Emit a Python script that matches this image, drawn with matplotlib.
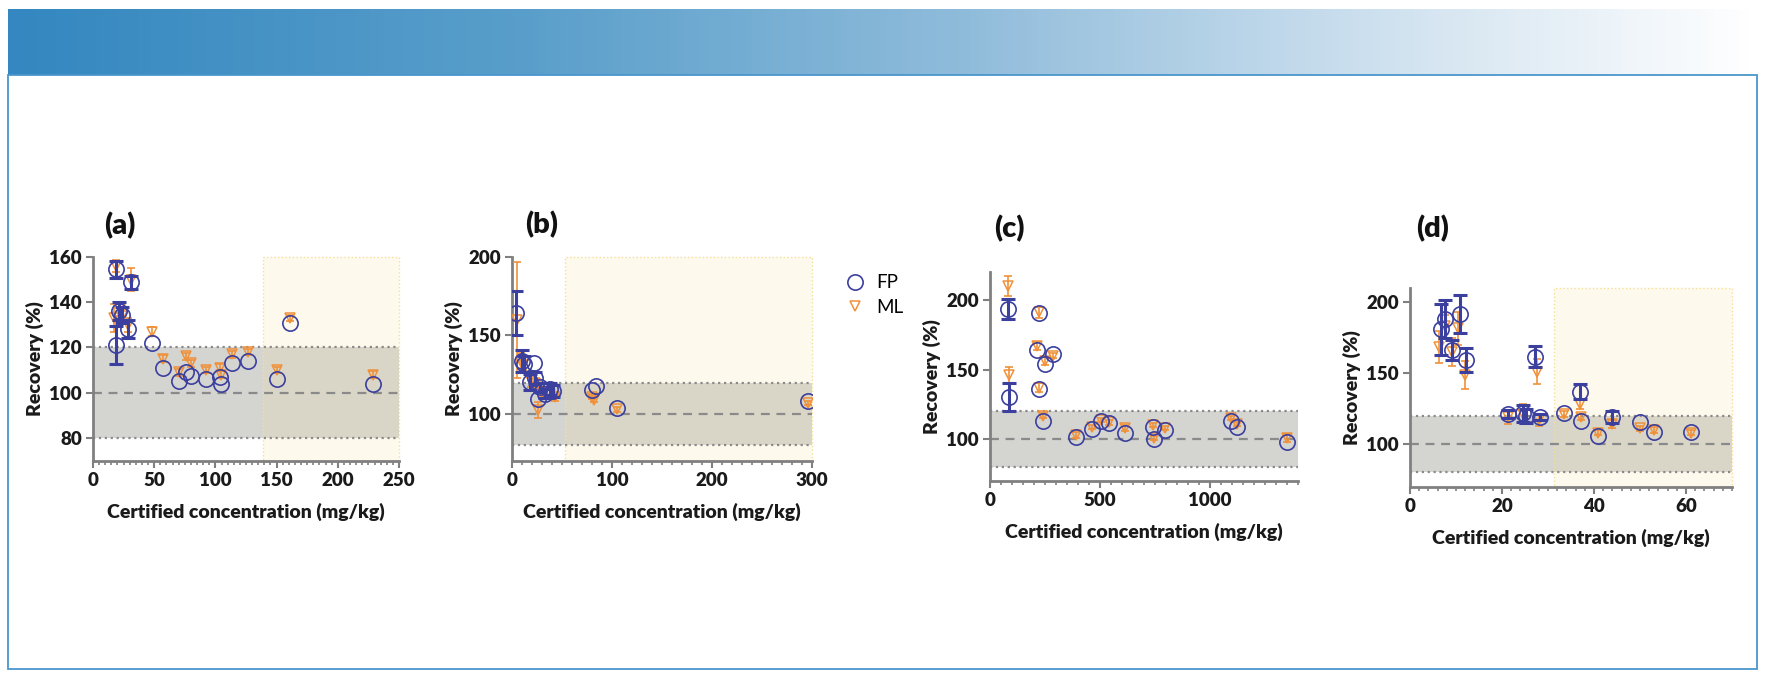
#!/usr/bin/env python3
"""Recovery (%) vs certified concentration for FP and ML, four element panels."""
import numpy as np
import matplotlib

matplotlib.use("Agg")
import matplotlib.pyplot as plt
from matplotlib.colors import LinearSegmentedColormap
from matplotlib.lines import Line2D
from matplotlib.patches import Rectangle

W, H = 1768, 680

# ---- data: (a) ----
a_fp_x = [18.6, 31.1, 21.5, 23.5, 28.4, 18.6, 48.6, 57.1, 69.9, 76.2, 80.3, 92.4,
          104.1, 104.3, 113.7, 126.8, 150.0, 161.2, 229.0]
a_fp_y = [154.6, 148.8, 136.0, 134.5, 128.0, 121.0, 122.0, 111.0, 105.0, 109.0, 107.5,
          106.0, 107.0, 104.0, 113.0, 114.0, 106.0, 131.0, 104.0]
a_fp_err = [3.7, 3.0, 4.0, 3.5, 4.0, 8.5, 0, 0, 0, 0, 0, 0, 0, 0, 0, 0, 0, 0, 0]
a_ml_x = [18.6, 31.1, 17.5, 22.0, 24.0, 28.4, 48.6, 57.1, 69.9, 76.2, 80.3, 92.4,
          104.1, 104.3, 113.7, 126.8, 150.0, 161.2, 229.0]
a_ml_y = [156.0, 150.0, 133.0, 137.0, 134.0, 130.0, 127.0, 115.0, 109.0, 116.0, 113.0,
          110.0, 111.0, 108.0, 117.0, 118.0, 110.0, 133.0, 108.0]
a_ml_err = [2.5, 5.0, 6.0, 3.0, 3.0, 3.0, 2.0, 1.5, 1.5, 1.5, 1.5, 1.5, 1.5, 1.5,
            1.5, 1.5, 1.5, 1.5, 1.5]

# ---- data: (b) ----
b_fp_x = [4.0, 10.0, 12.0, 22.0, 18.0, 23.0, 28.0, 26.3, 33.0, 38.0, 41.3, 79.7,
          83.7, 104.7, 296.0]
b_fp_y = [164.5, 133.5, 132.0, 132.5, 120.5, 123.0, 117.0, 109.5, 113.0, 116.0,
          114.5, 115.3, 117.8, 103.6, 108.5]
b_fp_err = [14.0, 7.0, 5.0, 0, 5.0, 4.0, 3.0, 0, 3.0, 4.0, 4.0, 0, 0, 0, 0]
b_ml_x = [5.0, 9.0, 11.0, 18.7, 23.7, 26.3, 29.7, 38.0, 43.0, 80.0, 82.0, 104.7, 296.0]
b_ml_y = [160.0, 133.0, 131.0, 121.0, 119.0, 102.5, 114.0, 113.0, 111.0, 111.0,
          109.0, 103.0, 107.0]
b_ml_err = [37.0, 6.0, 3.0, 4.0, 4.0, 5.0, 3.0, 3.0, 3.0, 1.5, 1.5, 1.5, 1.5]

# ---- data: (c) ----
c_fp_x = [80, 85, 221, 212, 224, 251, 285, 242, 391, 462, 503, 542, 615, 742, 747,
          795, 1094, 1121, 1349]
c_fp_y = [193.5, 130.0, 190.6, 164.0, 135.7, 153.7, 161.0, 113.0, 101.7, 107.4, 113.0,
          111.7, 104.5, 108.9, 99.8, 106.5, 113.0, 109.0, 98.0]
c_fp_err = [7.0, 10.0, 0, 0, 0, 0, 0, 0, 0, 0, 0, 0, 0, 0, 0, 0, 0, 0, 0]
c_ml_x = c_fp_x
c_ml_y = [210.0, 146.0, 191.0, 167.0, 137.0, 156.0, 160.0, 117.0, 103.0, 109.0, 114.0,
          112.0, 108.0, 110.0, 101.0, 108.0, 115.0, 111.0, 101.0]
c_ml_err = [7.0, 6.0, 4.0, 3.0, 3.0, 3.0, 2.0, 2.0, 2.0, 1.5, 1.5, 1.5, 2.0, 1.5, 1.5,
            1.5, 1.5, 1.5, 3.0]

# ---- data: (d) ----
d_fp_x = [6.7, 7.6, 10.9, 9.1, 12.2, 21.4, 24.6, 25.2, 28.3, 27.2, 33.5, 37.0, 37.2,
          40.8, 44.0, 50.0, 53.0, 61.0]
d_fp_y = [181.0, 188.0, 191.5, 166.0, 159.0, 121.0, 121.5, 120.0, 119.0, 161.5, 122.0,
          137.0, 116.0, 105.5, 119.0, 115.5, 108.5, 108.5]
d_fp_err = [18.0, 13.5, 13.5, 7.0, 8.5, 3.0, 6.0, 5.0, 2.0, 7.5, 0, 5.0, 0, 0, 4.0,
            0, 0, 0]
d_ml_x = [6.4, 7.6, 10.5, 9.1, 12.0, 27.5, 21.4, 24.6, 28.0, 33.5, 37.0, 37.2, 40.8,
          44.0, 50.0, 53.0, 61.0]
d_ml_y = [168.5, 183.0, 181.5, 165.0, 148.6, 151.0, 119.0, 121.0, 117.0, 121.0, 128.0,
          119.0, 108.0, 114.0, 111.0, 110.0, 108.0]
d_ml_err = [11.5, 8.0, 11.5, 10.0, 9.7, 9.0, 5.0, 7.0, 4.0, 2.0, 3.0, 2.0, 2.0, 3.0,
            2.0, 2.0, 2.0]

PANELS = [
    dict(tag="(a)", fp=(a_fp_x, a_fp_y, a_fp_err), ml=(a_ml_x, a_ml_y, a_ml_err),
         xlim=(0, 250), ylim=(70, 160), xmajor=50, xminor=5,
         yticks=[80, 100, 120, 140, 160], yellow=(138.5, 250)),
    dict(tag="(b)", fp=(b_fp_x, b_fp_y, b_fp_err), ml=(b_ml_x, b_ml_y, b_ml_err),
         xlim=(0, 300), ylim=(70, 200), xmajor=100, xminor=10,
         yticks=[100, 150, 200], yellow=(53, 300)),
    dict(tag="(c)", fp=(c_fp_x, c_fp_y, c_fp_err), ml=(c_ml_x, c_ml_y, c_ml_err),
         xlim=(0, 1400), ylim=(70, 220), xmajor=500, xminor=50,
         yticks=[100, 150, 200], yellow=None),
    dict(tag="(d)", fp=(d_fp_x, d_fp_y, d_fp_err), ml=(d_ml_x, d_ml_y, d_ml_err),
         xlim=(0, 70), ylim=(70, 210), xmajor=20, xminor=2,
         yticks=[100, 150, 200], yellow=(31.3, 70)),
]

# pixel boxes (left, top, right, bottom) and tag positions
BOXES = [(93, 257, 399, 460.5), (512, 257, 812, 461), (990, 272, 1298, 481),
         (1410, 288, 1732, 486.5)]
TAGS = [(120, 226), (542, 225), (1009, 229), (1433, 229)]

FP_COLOR = "#3b3f9e"
ML_COLOR = "#f0913a"
AXIS_GRAY = "#808080"
BAND_GRAY = "#d4d4d1"
YELLOW = "#f6df9a"

plt.rcParams["font.family"] = ["Lato", "DejaVu Sans"]


def px_rect(left, top, right, bottom):
    return [left / W, 1 - bottom / H, (right - left) / W, (bottom - top) / H]


def draw_series(ax, x, y, err, color, marker, ms, mew, capsize, elw, z):
    x, y, err = (np.asarray(v, dtype=float) for v in (x, y, err))
    has = err > 0
    ax.errorbar(x[has], y[has], yerr=err[has], fmt="none", ecolor=color,
                elinewidth=elw, capsize=capsize, capthick=elw, zorder=z)
    ax.plot(x, y, ls="none", marker=marker, ms=ms, mfc="none", mec=color,
            mew=mew, zorder=z + 0.5)


def draw_frame(fig):
    cmap = LinearSegmentedColormap.from_list(
        "banner", [(0, "#3487c0"), (0.3, "#5a9fcb"), (0.55, "#90bcdb"),
                   (0.8, "#d2e3f0"), (1, "#ffffff")])
    bax = fig.add_axes(px_rect(8, 9, 1755, 75))
    bax.imshow(np.linspace(0, 1, 512)[None, :], aspect="auto", cmap=cmap)
    bax.set_axis_off()
    fig.patches.append(Rectangle((8 / W, 1 - 669 / H), 1749 / W, 594 / H,
                                 transform=fig.transFigure, fill=False,
                                 edgecolor="#4a96cb", lw=1.3))


def draw_panel(fig, p, box, tag_xy):
    left, top, right, bottom = box
    ax = fig.add_axes(px_rect(*box))
    w_px, h_px = right - left, bottom - top

    ax.axhspan(80, 120, color=BAND_GRAY, lw=0, zorder=0)
    if p["yellow"]:
        ax.axvspan(*p["yellow"], facecolor=(0.98, 0.88, 0.59, 0.17),
                   edgecolor=YELLOW, ls=":", lw=1.0, zorder=1, clip_on=False)
    for yv, ls in ((80, ":"), (120, ":"), (100, (0, (4, 3)))):
        ax.axhline(yv, color="#8a8a8a", ls=ls, lw=1.6, zorder=2)

    draw_series(ax, *p["ml"], ML_COLOR, "v", 7, 1.1, 3.2, 1.2, 3)
    draw_series(ax, *p["fp"], FP_COLOR, "o", 11, 1.2, 5.2, 2.2, 4)

    ax.set_xlim(*p["xlim"])
    ax.set_ylim(*p["ylim"])
    ax.set_xticks(np.arange(p["xlim"][0], p["xlim"][1] + 1e-9, p["xmajor"]))
    ax.set_xticks(np.arange(p["xlim"][0], p["xlim"][1] + 1e-9, p["xminor"]), minor=True)
    ax.set_yticks(p["yticks"])

    for side in ("top", "right"):
        ax.spines[side].set_visible(False)
    for side in ("left", "bottom"):
        ax.spines[side].set_color(AXIS_GRAY)
        ax.spines[side].set_linewidth(2.0)
    ax.tick_params(which="major", length=5, width=1.5, color=AXIS_GRAY,
                   labelsize=13.5, labelcolor="#1a1a1a", pad=3)
    ax.tick_params(which="minor", length=3, width=1.2, color=AXIS_GRAY)
    for lab in ax.get_xticklabels() + ax.get_yticklabels():
        lab.set_fontweight("heavy")

    ax.set_xlabel("Certified concentration (mg/kg)", fontsize=14, fontweight="heavy",
                  color="#1a1a1a")
    ax.set_ylabel("Recovery (%)", fontsize=14, fontweight="heavy", color="#1a1a1a")
    ax.xaxis.set_label_coords(0.5, -42 / h_px)
    ax.yaxis.set_label_coords(-49 / w_px, 0.5)

    fig.text(tag_xy[0] / W, 1 - tag_xy[1] / H, p["tag"], fontsize=21,
             fontweight="heavy", ha="center", va="center", color="#111111")
    return ax


def main():
    fig = plt.figure(figsize=(W / 100, H / 100), dpi=100)
    draw_frame(fig)
    for p, box, tag in zip(PANELS, BOXES, TAGS):
        draw_panel(fig, p, box, tag)

    handles = [
        Line2D([], [], ls="none", marker="o", ms=11, mfc="none", mec=FP_COLOR, mew=1.2),
        Line2D([], [], ls="none", marker="v", ms=7, mfc="none", mec=ML_COLOR, mew=1.1),
    ]
    fig.legend(handles, ["FP", "ML"], loc="center left",
               bbox_to_anchor=(846 / W, 1 - 295 / H), frameon=False, fontsize=13.5,
               handlelength=1.0, handletextpad=0.6, labelspacing=0.4,
               borderpad=0, borderaxespad=0)

    fig.savefig("out.png", dpi=100, facecolor="white")


if __name__ == "__main__":
    main()
